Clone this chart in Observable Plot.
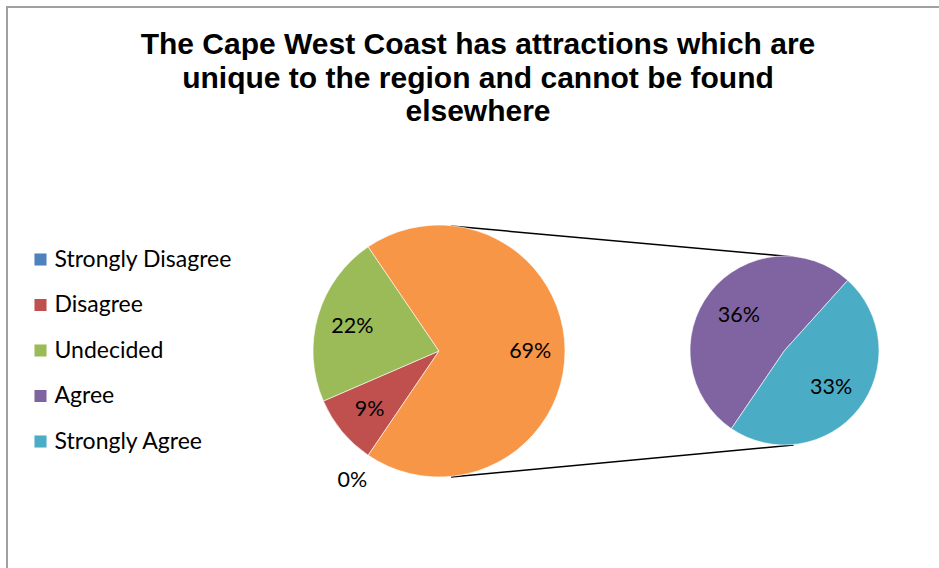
<!DOCTYPE html>
<html><head><meta charset="utf-8">
<script src="https://cdn.jsdelivr.net/npm/d3@7"></script>
<script src="https://cdn.jsdelivr.net/npm/@observablehq/plot@0.6"></script>
<style>
html,body{margin:0;padding:0;background:#fff;overflow:hidden;width:939px;height:568px}
#frame{position:absolute;left:6px;top:6px;width:1000px;height:700px;border-left:2px solid #a0a0a0;border-top:2px solid #a0a0a0}
#title{position:absolute;left:0;top:27px;width:956px;text-align:center;font-family:"Liberation Sans",Arial,sans-serif;font-weight:bold;font-size:30px;line-height:33.5px;color:#000}
#chart{position:absolute;left:0;top:140px}
</style></head><body>
<div id="frame"></div>
<div id="title">The Cape West Coast has attractions which are<br>unique to the region and cannot be found<br>elsewhere</div>
<div id="chart"></div>
<script>
// ---- data ----
const categories = ["Strongly Disagree", "Disagree", "Undecided", "Agree", "Strongly Agree"];
const values = [0, 9, 22, 36, 33];              // percent
const colors = ["#4F81BD", "#C0504D", "#9BBB59", "#8064A2", "#4BACC6"];
const secondaryCategories = ["Agree", "Strongly Agree"]; // split to the second pie
const otherKey = "Other";
const otherColor = "#F79646";

// ---- layout (svg units) ----
const W = 939, H = 428;
const main = {cx: 439, cy: 211, r: 126};
const sec = {cx: 784.5, cy: 210.5, r: 94.5};
const legend = {x: 40, textX: 54, y0: 119, step: 45.5};
const font = "Lato";

// ---- derived tables ----
const rows = categories.map((c, i) => ({key: c, value: values[i]}));
const secRows = rows.filter(d => secondaryCategories.includes(d.key));
const otherValue = d3.sum(secRows, d => d.value);
const mainRows = rows.filter(d => !secondaryCategories.includes(d.key)).concat([{key: otherKey, value: otherValue}]);
const total = d3.sum(mainRows, d => d.value);
// Excel pie-of-pie: the "Other" slice is centred on 3 o'clock
const start = Math.PI / 2 + Math.PI * otherValue / total;

function pieLayout(data) {
  return d3.pie().sort(null).value(d => d.value).startAngle(start).endAngle(start + 2 * Math.PI)(data);
}
const mainArcs = pieLayout(mainRows);
const secArcs = pieLayout(secRows);

function labelPos(arcs, c, inner, outer) {
  return arcs.map(a => {
    const m = (a.startAngle + a.endAngle) / 2;
    const k = a.data.value > 0 ? inner : outer;
    return {text: a.data.value + "%", x: c.cx + Math.sin(m) * c.r * k, y: c.cy - Math.cos(m) * c.r * k};
  });
}
const labelRows = labelPos(mainArcs, main, 0.72, 1.23).concat(labelPos(secArcs, sec, 0.62, 1.2));

// external common tangents between the two pies
const alpha = Math.asin((main.r - sec.r) / (sec.cx - main.cx));
const connectors = [-1, 1].map(s => ({
  x1: main.cx + main.r * Math.sin(alpha), y1: main.cy + s * main.r * Math.cos(alpha),
  x2: sec.cx + sec.r * Math.sin(alpha), y2: sec.cy + s * sec.r * Math.cos(alpha)
}));

function pieMark(arcs, c) {
  return (index, scales) => {
    const sx = scales.x || (v => v), sy = scales.y || (v => v);
    const px = sx(c.cx), py = sy(c.cy), pr = sx(c.cx + c.r) - px;
    const arc = d3.arc().innerRadius(0).outerRadius(pr);
    const g = d3.create("svg:g").attr("transform", `translate(${px},${py})`);
    g.selectAll("path").data(arcs.filter(a => a.data.value > 0)).join("path")
      .attr("d", arc)
      .attr("fill", a => scales.color(a.data.key))
      .attr("stroke", "#ffffff").attr("stroke-width", 0.6);
    return g.node();
  };
}

const chart = Plot.plot({
  width: W, height: H,
  margin: 0,
  x: {domain: [0, W], range: [0, W], axis: null},
  y: {domain: [0, H], range: [0, H], axis: null},
  color: {type: "ordinal", domain: categories.concat([otherKey]), range: colors.concat([otherColor])},
  style: {fontFamily: font, fontSize: "21px", background: "transparent", overflow: "visible"},
  marks: [
    Plot.link(connectors, {x1: "x1", y1: "y1", x2: "x2", y2: "y2", stroke: "#000", strokeWidth: 1.5}),
    pieMark(mainArcs, main),
    pieMark(secArcs, sec),
    Plot.text(labelRows, {x: "x", y: "y", text: "text", fill: "#000", fontSize: 21.5}),
    Plot.dot(categories, {x: () => legend.x, y: (d, i) => legend.y0 + i * legend.step, fill: d => d, symbol: "square", r: 6.8}),
    Plot.text(categories, {x: () => legend.textX, y: (d, i) => legend.y0 + i * legend.step, text: d => d, textAnchor: "start", fill: "#000", fontSize: 23})
  ]
});
document.getElementById("chart").appendChild(chart);
</script>
</body></html>
